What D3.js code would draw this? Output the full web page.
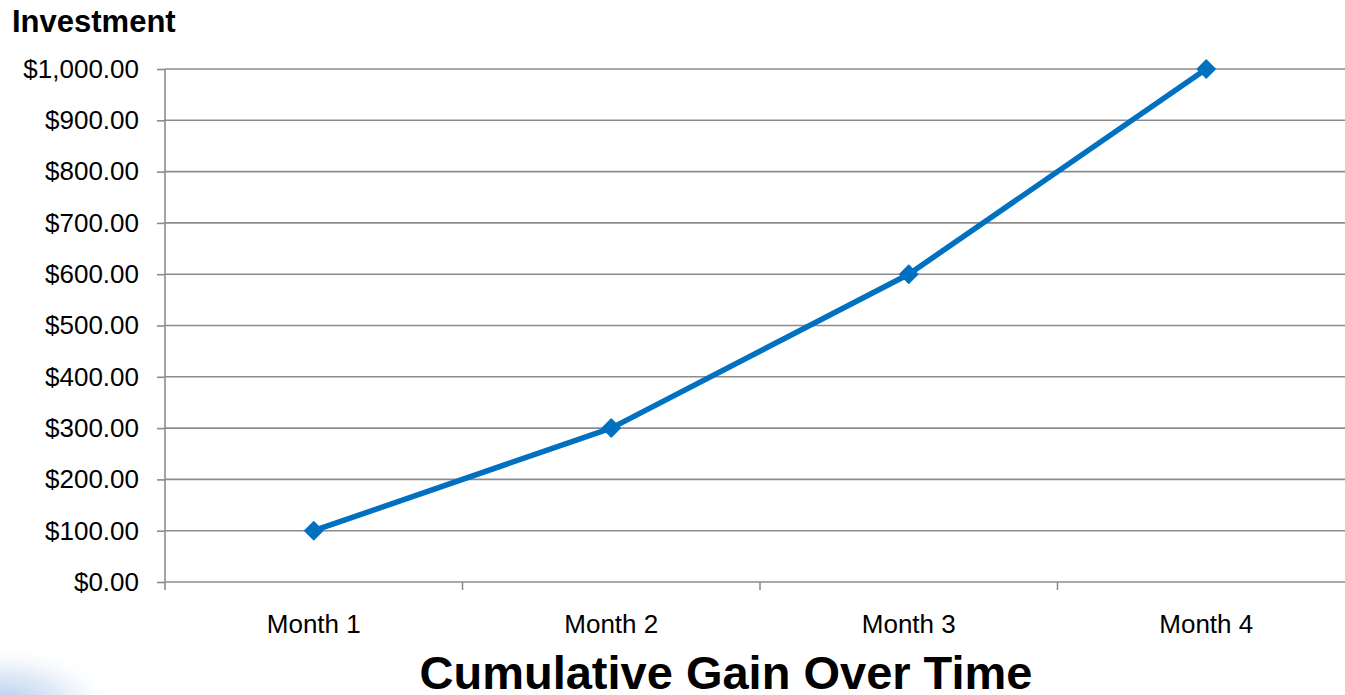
<!DOCTYPE html>
<html><head><meta charset="utf-8">
<script src="https://cdn.jsdelivr.net/npm/d3@7"></script>
<style>html,body{margin:0;padding:0;background:#fff;overflow:hidden}svg{display:block}</style>
</head><body>
<script>
const categories = ["Month 1", "Month 2", "Month 3", "Month 4"];
const values = [100, 300, 600, 1000];
const yTicks = [0, 100, 200, 300, 400, 500, 600, 700, 800, 900, 1000];
const chartTitle = "Cumulative Gain Over Time";
const yTitle = "Investment";

(function () {
const W = 1345, H = 695;
const FONT = "Liberation Sans, Arial, sans-serif";
const svg = d3.select("body").append("svg").attr("width", W).attr("height", H);

const defs = svg.append("defs");
const rg = defs.append("radialGradient").attr("id", "blob").attr("cx", "0.5").attr("cy", "0.5").attr("r", "0.5");
rg.append("stop").attr("offset", "0%").attr("stop-color", "#9fbde6").attr("stop-opacity", 0.9);
rg.append("stop").attr("offset", "55%").attr("stop-color", "#c9dbf2").attr("stop-opacity", 0.55);
rg.append("stop").attr("offset", "100%").attr("stop-color", "#ffffff").attr("stop-opacity", 0);
svg.append("ellipse").attr("cx", 0).attr("cy", 708).attr("rx", 120).attr("ry", 65).attr("fill", "url(#blob)");

const pLeft = 165, pTop = 69, pBottom = 582, bandW = 297.5;
const x = d3.scaleBand().domain(categories).range([pLeft, pLeft + bandW * categories.length]);
const y = d3.scaleLinear().domain([0, 1000]).range([pBottom, pTop]);

const gridColor = "#8c8c8c";
svg.append("g").selectAll("line").data(yTicks).join("line")
  .attr("x1", pLeft).attr("x2", W).attr("y1", d => y(d)).attr("y2", d => y(d))
  .attr("stroke", gridColor).attr("stroke-width", 1.6);

const yAxis = d3.axisLeft(y).tickValues(yTicks).tickSize(8).tickPadding(18)
  .tickFormat(d => "$" + d3.format(",.2f")(d));
const gy = svg.append("g").attr("transform", `translate(${pLeft},0)`).call(yAxis);
gy.select(".domain").attr("stroke", gridColor).attr("stroke-width", 1.6).attr("d", `M0,${pTop}V${pBottom + 8}`);
gy.selectAll(".tick line").attr("stroke", gridColor).attr("stroke-width", 1.6);
gy.selectAll("text").attr("font-family", FONT).attr("font-size", 26).attr("fill", "#000");

const gx = svg.append("g").attr("transform", `translate(0,${pBottom})`);
gx.selectAll("line.tk").data(categories).join("line").attr("class", "tk")
  .attr("x1", d => x(d) + bandW).attr("x2", d => x(d) + bandW).attr("y1", 0).attr("y2", 8)
  .attr("stroke", gridColor).attr("stroke-width", 1.6);
gx.selectAll("text").data(categories).join("text")
  .attr("x", d => x(d) + x.bandwidth() / 2).attr("y", 51).attr("text-anchor", "middle")
  .attr("font-family", FONT).attr("font-size", 26).attr("fill", "#000")
  .text(d => d);

const pts = categories.map((c, i) => [x(c) + x.bandwidth() / 2, y(values[i])]);
svg.append("path").attr("d", d3.line()(pts)).attr("fill", "none")
  .attr("stroke", "#0070C0").attr("stroke-width", 5.5).attr("stroke-linejoin", "round");
svg.append("g").selectAll("path").data(pts).join("path")
  .attr("d", d3.symbol(d3.symbolSquare, 200)())
  .attr("transform", d => `translate(${d[0]},${d[1]}) rotate(45)`)
  .attr("fill", "#0070C0");

svg.append("text").attr("x", 12).attr("y", 32).attr("font-family", FONT)
  .attr("font-weight", "bold").attr("font-size", 31).text(yTitle);
svg.append("text").attr("x", 726).attr("y", 689).attr("text-anchor", "middle")
  .attr("font-family", FONT)
  .attr("font-weight", "bold").attr("font-size", 47).text(chartTitle);
})();
</script>
</body></html>
